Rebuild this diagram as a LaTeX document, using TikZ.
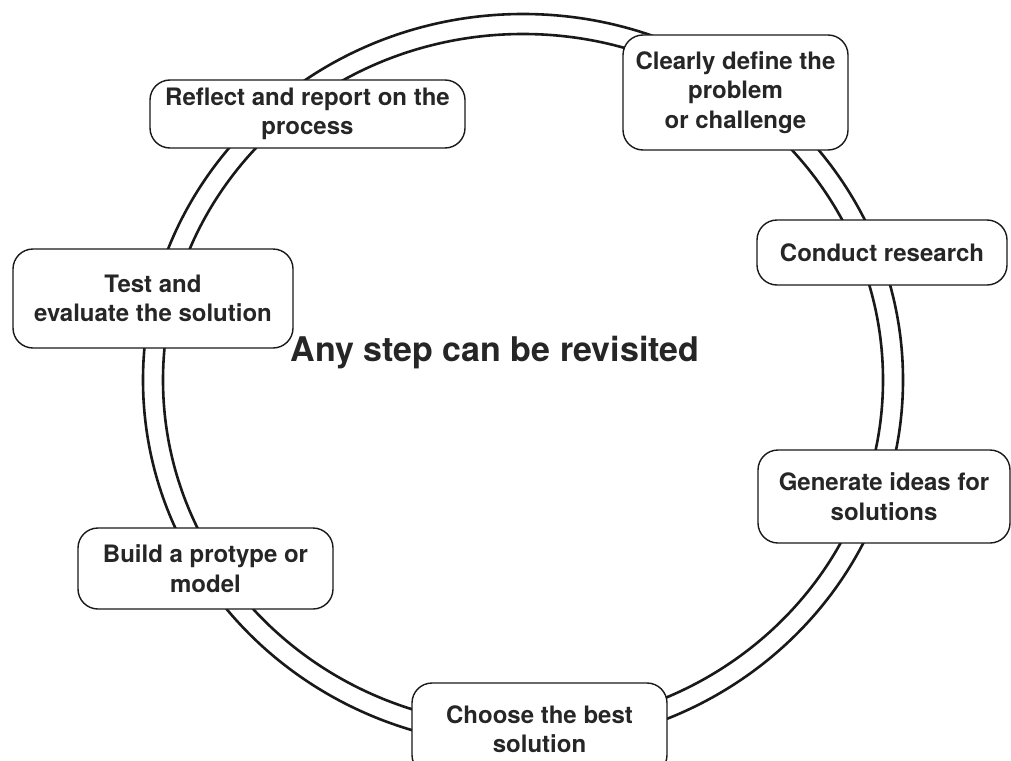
\documentclass[tikz,border=0pt]{standalone}
\usepackage{fontspec}
\setmainfont{TeX Gyre Heros}
\usepackage{tikz}
\usetikzlibrary{positioning}

\begin{document}
\begin{tikzpicture}[
    x=1pt, y=-1pt,
    ring/.style={draw=black!90, line width=2.6pt},
    stepbox/.style={
        draw=black!90, line width=1.4pt, rounded corners=20pt, fill=white,
        align=center, inner sep=0pt,
        font=\bfseries\fontsize{24}{29.5}\selectfont, text=black!85,
    },
    hub/.style={font=\bfseries\fontsize{34}{40}\selectfont, text=black!85},
]
\useasboundingbox (0,0) rectangle (1011,760);

% --- double ring ---
\coordinate (c) at (523,380);
\draw[ring] (c) ellipse [x radius=380pt, y radius=366pt];
\draw[ring] (c) ellipse [x radius=360pt, y radius=346pt];

% --- steps round the ring ---
\node[stepbox, minimum width=225pt, minimum height=115pt] (define) at (735.5,92.5)
    {Clearly define the\\problem\\or challenge};
\node[stepbox, minimum width=250pt, minimum height=65pt] (research) at (882,252.5)
    {Conduct research};
\node[stepbox, minimum width=252pt, minimum height=93pt] (ideas) at (884,496.5)
    {Generate ideas for\\solutions};
\node[stepbox, minimum width=255pt, minimum height=92pt] (choose) at (539.5,729)
    {Choose the best\\solution};
\node[stepbox, minimum width=255pt, minimum height=81pt] (build) at (205.5,568.5)
    {Build a protype or\\model};
\node[stepbox, minimum width=280pt, minimum height=99pt] (test) at (153,298.5)
    {Test and\\evaluate the solution};
\node[stepbox, minimum width=315pt, minimum height=68pt] (reflect) at (307.5,114)
    {Reflect and report on the\\process};

% --- centre label ---
\node[hub] (revisit) at (495,353) {Any step can be revisited};

\end{tikzpicture}
\end{document}
